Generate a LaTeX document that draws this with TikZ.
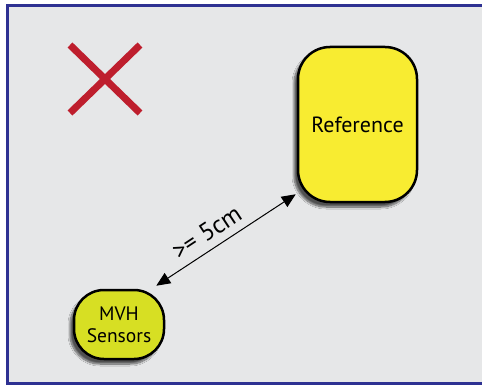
\documentclass[tikz,border=0pt]{standalone}
\usepackage{fontspec}
\setmainfont{PT Sans}
\usepackage{tikz}
\usetikzlibrary{arrows.meta,shadows.blur}

\definecolor{panelgray}{HTML}{E6E7E8}
\definecolor{framblue}{HTML}{2E3192}
\definecolor{refyellow}{HTML}{F8EC31}
\definecolor{sensorlime}{HTML}{D7DF23}
\definecolor{crossred}{HTML}{BE1E2D}

\tikzset{
  boxshadow/.style={blur shadow={shadow xshift=-4pt, shadow yshift=-5pt,
      shadow blur steps=10, shadow opacity=65}},
  refbox/.style={draw=black, line width=2.5pt, fill=refyellow, boxshadow,
      minimum width=119pt, minimum height=155pt, rounded corners=32pt,
      font=\fontsize{22}{26}\selectfont},
  sensorbox/.style={draw=black, line width=2.5pt, fill=sensorlime, boxshadow,
      minimum width=90pt, minimum height=69pt, rounded corners=30pt,
      align=center, inner sep=0pt, font=\fontsize{19.5}{22}\selectfont},
  distarrow/.style={{Triangle[length=14pt,width=12pt]}-{Triangle[length=14pt,width=12pt]},
      line width=1pt},
  crossline/.style={crossred, line width=7pt}
}

\begin{document}
\begin{tikzpicture}[x=1pt, y=-1pt]
    \useasboundingbox (0,0) rectangle (482,385);
    % panel
    \fill[white] (0,0) rectangle (482,385);
    \draw[framblue, fill=panelgray, line width=3pt] (7.5,5.5) rectangle (495,383.5);

    % red cross
    \draw[crossline] (70,45) -- (140,113);
    \draw[crossline] (70,113) -- (140,45);

    % boxes
    \node[refbox] (ref) at (357.5,124.5) {Reference};
    \node[sensorbox] (mvh) at (119,324.5) {MVH\\Sensors};

    % distance
    \draw[distarrow] ([shift={(-9,-3)}]mvh.north east) --
                     node[pos=0.43, above, sloped, inner sep=8pt,
                          font=\fontsize{25}{28}\selectfont] {>= 5cm}
                     ([shift={(-1,-9)}]ref.south west);
  \end{tikzpicture}
\end{document}
